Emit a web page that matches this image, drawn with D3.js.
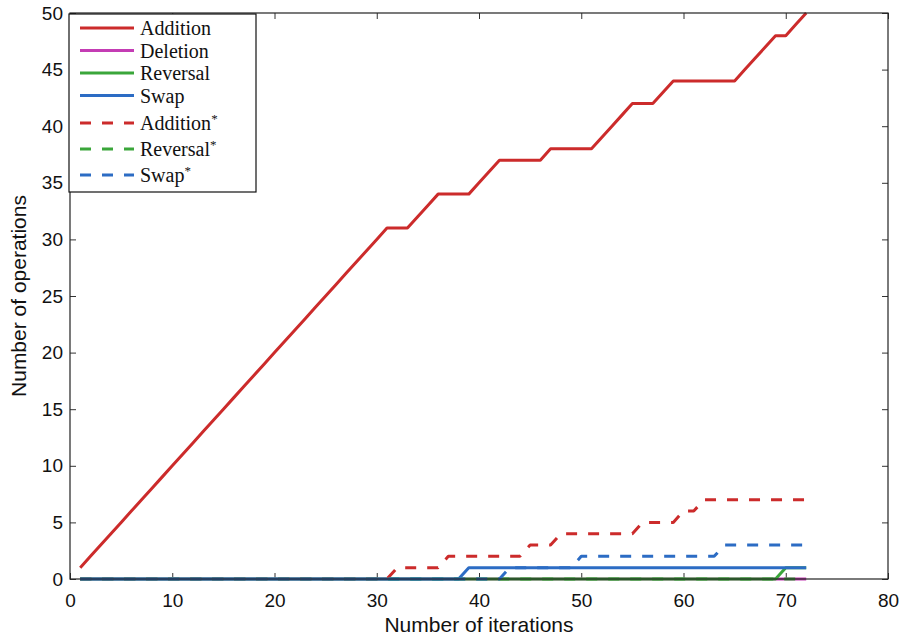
<!DOCTYPE html>
<html>
<head>
<meta charset="utf-8">
<script src="https://cdn.jsdelivr.net/npm/d3@7/dist/d3.min.js"></script>
<style>
  body { margin: 0; background: #fff; }
  svg { display: block; }
  .tick text { font-family: "Liberation Sans Narrow", "Liberation Sans", Arial, sans-serif; font-size: 19px; fill: #111; }
  .tick line { stroke: #333; }
  .axis-label { font-family: "Liberation Sans", Arial, sans-serif; font-size: 21px; fill: #111; }
  .legend text { font-family: "Liberation Serif", "DejaVu Serif", serif; font-size: 20px; fill: #111; }
</style>
</head>
<body>
<svg id="chart" width="899" height="637"></svg>
<script>
// iterations (x values)
const iterations = [
  1, 2, 3, 4, 5, 6, 7, 8, 9, 10, 11, 12, 13, 14, 15, 16, 17, 18,
  19, 20, 21, 22, 23, 24, 25, 26, 27, 28, 29, 30, 31, 32, 33, 34, 35, 36,
  37, 38, 39, 40, 41, 42, 43, 44, 45, 46, 47, 48, 49, 50, 51, 52, 53, 54,
  55, 56, 57, 58, 59, 60, 61, 62, 63, 64, 65, 66, 67, 68, 69, 70, 71, 72
];

// series values, one per iteration
const addition = [
  1, 2, 3, 4, 5, 6, 7, 8, 9, 10, 11, 12, 13, 14, 15, 16, 17, 18,
  19, 20, 21, 22, 23, 24, 25, 26, 27, 28, 29, 30, 31, 31, 31, 32, 33, 34,
  34, 34, 34, 35, 36, 37, 37, 37, 37, 37, 38, 38, 38, 38, 38, 39, 40, 41,
  42, 42, 42, 43, 44, 44, 44, 44, 44, 44, 44, 45, 46, 47, 48, 48, 49, 50
];
const deletion = [
  0, 0, 0, 0, 0, 0, 0, 0, 0, 0, 0, 0, 0, 0, 0, 0, 0, 0,
  0, 0, 0, 0, 0, 0, 0, 0, 0, 0, 0, 0, 0, 0, 0, 0, 0, 0,
  0, 0, 0, 0, 0, 0, 0, 0, 0, 0, 0, 0, 0, 0, 0, 0, 0, 0,
  0, 0, 0, 0, 0, 0, 0, 0, 0, 0, 0, 0, 0, 0, 0, 0, 0, 0
];
const reversal = [
  0, 0, 0, 0, 0, 0, 0, 0, 0, 0, 0, 0, 0, 0, 0, 0, 0, 0,
  0, 0, 0, 0, 0, 0, 0, 0, 0, 0, 0, 0, 0, 0, 0, 0, 0, 0,
  0, 0, 0, 0, 0, 0, 0, 0, 0, 0, 0, 0, 0, 0, 0, 0, 0, 0,
  0, 0, 0, 0, 0, 0, 0, 0, 0, 0, 0, 0, 0, 0, 0, 1, 1, 1
];
const swap = [
  0, 0, 0, 0, 0, 0, 0, 0, 0, 0, 0, 0, 0, 0, 0, 0, 0, 0,
  0, 0, 0, 0, 0, 0, 0, 0, 0, 0, 0, 0, 0, 0, 0, 0, 0, 0,
  0, 0, 1, 1, 1, 1, 1, 1, 1, 1, 1, 1, 1, 1, 1, 1, 1, 1,
  1, 1, 1, 1, 1, 1, 1, 1, 1, 1, 1, 1, 1, 1, 1, 1, 1, 1
];
const additionStar = [
  0, 0, 0, 0, 0, 0, 0, 0, 0, 0, 0, 0, 0, 0, 0, 0, 0, 0,
  0, 0, 0, 0, 0, 0, 0, 0, 0, 0, 0, 0, 0, 1, 1, 1, 1, 1,
  2, 2, 2, 2, 2, 2, 2, 2, 3, 3, 3, 4, 4, 4, 4, 4, 4, 4,
  4, 5, 5, 5, 5, 6, 6, 7, 7, 7, 7, 7, 7, 7, 7, 7, 7, 7
];
const reversalStar = [
  0, 0, 0, 0, 0, 0, 0, 0, 0, 0, 0, 0, 0, 0, 0, 0, 0, 0,
  0, 0, 0, 0, 0, 0, 0, 0, 0, 0, 0, 0, 0, 0, 0, 0, 0, 0,
  0, 0, 0, 0, 0, 0, 0, 0, 0, 0, 0, 0, 0, 0, 0, 0, 0, 0,
  0, 0, 0, 0, 0, 0, 0, 0, 0, 0, 0, 0, 0, 0, 0, 0, 0, 0
];
const swapStar = [
  0, 0, 0, 0, 0, 0, 0, 0, 0, 0, 0, 0, 0, 0, 0, 0, 0, 0,
  0, 0, 0, 0, 0, 0, 0, 0, 0, 0, 0, 0, 0, 0, 0, 0, 0, 0,
  0, 0, 0, 0, 0, 0, 1, 1, 1, 1, 1, 1, 1, 2, 2, 2, 2, 2,
  2, 2, 2, 2, 2, 2, 2, 2, 2, 3, 3, 3, 3, 3, 3, 3, 3, 3
];

const seriesNames = ["Addition", "Deletion", "Reversal", "Swap", "Addition", "Reversal", "Swap"];
const seriesStarred = [false, false, false, false, true, true, true];
const seriesValues = [addition, deletion, reversal, swap, additionStar, reversalStar, swapStar];

const xTicks = [0, 10, 20, 30, 40, 50, 60, 70, 80];
const yTicks = [0, 5, 10, 15, 20, 25, 30, 35, 40, 45, 50];

const red = "#cc2b2b", magenta = "#c43cb4", green = "#3aa63a", blue = "#2c6cc4";
const seriesColors = [red, magenta, green, blue, red, green, blue];

// plot box
const plotLeft = 70, plotRight = 888, plotTop = 13, plotBottom = 579;

const svg = d3.select("#chart");

const x = d3.scaleLinear().domain([0, 80]).range([plotLeft, plotRight]);
const y = d3.scaleLinear().domain([0, 50]).range([plotBottom, plotTop]);

// axes, ticks pointing inward
svg.append("g")
    .attr("transform", "translate(0," + plotBottom + ")")
    .call(d3.axisBottom(x).tickValues(xTicks).tickSizeInner(-6).tickSizeOuter(0).tickPadding(15))
    .call(g => g.select(".domain").remove());

svg.append("g")
    .attr("transform", "translate(" + plotLeft + ",0)")
    .call(d3.axisLeft(y).tickValues(yTicks).tickSizeInner(-6).tickSizeOuter(0).tickPadding(7))
    .call(g => g.select(".domain").remove());

svg.append("g")
    .attr("transform", "translate(0," + plotTop + ")")
    .call(d3.axisTop(x).tickValues(xTicks).tickSizeInner(-6).tickSizeOuter(0).tickFormat(""))
    .call(g => g.select(".domain").remove());

svg.append("g")
    .attr("transform", "translate(" + plotRight + ",0)")
    .call(d3.axisRight(y).tickValues(yTicks).tickSizeInner(-6).tickSizeOuter(0).tickFormat(""))
    .call(g => g.select(".domain").remove());

// lines
const line = d3.line()
    .x((d, i) => x(iterations[i]))
    .y(d => y(d));

seriesValues.forEach((vals, k) => {
    svg.append("path")
        .datum(vals)
        .attr("fill", "none")
        .attr("stroke", seriesColors[k])
        .attr("stroke-width", 3)
        .attr("stroke-linejoin", "round")
        .attr("stroke-dasharray", seriesStarred[k] ? "11,11" : null)
        .attr("d", line);
});

// frame
svg.append("rect")
    .attr("x", plotLeft).attr("y", plotTop)
    .attr("width", plotRight - plotLeft).attr("height", plotBottom - plotTop)
    .attr("fill", "none")
    .attr("stroke", "#222")
    .attr("stroke-width", 1.2);

// axis labels
svg.append("text")
    .attr("class", "axis-label")
    .attr("x", (plotLeft + plotRight) / 2)
    .attr("y", 632)
    .attr("text-anchor", "middle")
    .text("Number of iterations");

svg.append("text")
    .attr("class", "axis-label")
    .attr("transform", "translate(26," + (plotTop + plotBottom) / 2 + ") rotate(-90)")
    .attr("text-anchor", "middle")
    .text("Number of operations");

// legend
const legend = svg.append("g").attr("class", "legend");
legend.append("rect")
    .attr("x", 69).attr("y", 14)
    .attr("width", 187).attr("height", 178)
    .attr("fill", "#fff")
    .attr("stroke", "#111")
    .attr("stroke-width", 1.2);

let ly = 28;
seriesNames.forEach((name, k) => {
    if (k > 0) ly += seriesStarred[k] ? (seriesStarred[k - 1] ? 26 : 27.5) : 22.5;
    legend.append("line")
        .attr("x1", 80).attr("x2", 134)
        .attr("y1", ly).attr("y2", ly)
        .attr("stroke", seriesColors[k])
        .attr("stroke-width", 3)
        .attr("stroke-dasharray", seriesStarred[k] ? "11,11" : null);
    const t = legend.append("text")
        .attr("x", 140)
        .attr("y", ly + 7)
        .text(name);
    if (seriesStarred[k]) {
        t.append("tspan").attr("dy", -7).attr("font-size", 13).text("*");
    }
});
</script>
</body>
</html>
